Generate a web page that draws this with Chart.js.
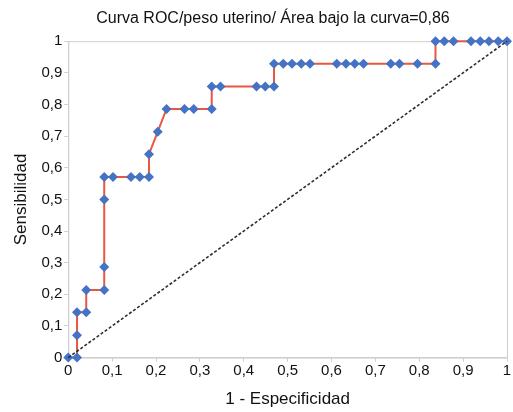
<!DOCTYPE html>
<html>
<head>
<meta charset="utf-8">
<script src="https://cdn.jsdelivr.net/npm/chart.js@4"></script>
<style>
  html, body { margin: 0; padding: 0; background: #fff; }
  #wrap { width: 513px; height: 412px; }
</style>
</head>
<body>
<div id="wrap"><canvas id="roc"></canvas></div>
<script>
// --- Data ---
const titleText = 'Curva ROC/peso uterino/ Área bajo la curva=0,86';
const xLabel = '1 - Especificidad';
const yLabel = 'Sensibilidad';

// 1 - especificidad (x) y sensibilidad (y) de cada punto de corte
const fpr = [0, 0.02, 0.02, 0.02, 0.041, 0.041, 0.082, 0.082, 0.082, 0.082,
  0.102, 0.143, 0.163, 0.184, 0.184, 0.204, 0.224, 0.265, 0.286, 0.327,
  0.327, 0.347, 0.429, 0.449, 0.469, 0.469, 0.49, 0.51, 0.531, 0.551,
  0.612, 0.633, 0.653, 0.673, 0.735, 0.755, 0.796, 0.837, 0.837, 0.857,
  0.878, 0.918, 0.939, 0.959, 0.98, 1];
const tpr = [0, 0, 0.071, 0.143, 0.143, 0.214, 0.214, 0.286, 0.5, 0.571,
  0.571, 0.571, 0.571, 0.571, 0.643, 0.714, 0.786, 0.786, 0.786, 0.786,
  0.857, 0.857, 0.857, 0.857, 0.857, 0.929, 0.929, 0.929, 0.929, 0.929,
  0.929, 0.929, 0.929, 0.929, 0.929, 0.929, 0.929, 0.929, 1, 1,
  1, 1, 1, 1, 1, 1];

// línea de referencia
const refX = [0, 1];
const refY = [0, 1];

const FONT = "'Liberation Sans', Arial, Helvetica, sans-serif";

// marco gris alrededor del área de trazado
const framePlugin = {
  id: 'frame',
  afterLayout(chart) {
    // el título va un poco a la derecha del centro del lienzo
    if (chart.titleBlock) chart.titleBlock.left += 32;
  },
  beforeDatasetsDraw(chart) {
    const { ctx, chartArea: a } = chart;
    ctx.save();
    ctx.strokeStyle = '#cfcfcf';
    ctx.lineWidth = 1;
    ctx.strokeRect(a.left + 0.5, a.top + 0.5, a.right - a.left, a.bottom - a.top);
    ctx.restore();
  }
};

const commaTick = v => String(Math.round(v * 10) / 10).replace('.', ',');

new Chart(document.getElementById('roc'), {
  type: 'scatter',
  data: {
    datasets: [
      {
        label: 'Referencia',
        data: refX.map((x, i) => ({ x, y: refY[i] })),
        showLine: true,
        borderColor: '#2e2e2e',
        borderWidth: 1.6,
        borderDash: [3, 2],
        pointRadius: 0,
        clip: false
      },
      {
        label: 'ROC',
        data: fpr.map((x, i) => ({ x, y: tpr[i] })),
        showLine: true,
        borderColor: '#e9573f',
        borderWidth: 2,
        pointStyle: 'rectRot',
        pointRadius: 5,
        pointBackgroundColor: '#4472c4',
        pointBorderColor: '#4472c4',
        pointBorderWidth: 0,
        clip: false
      }
    ]
  },
  options: {
    responsive: true,
    maintainAspectRatio: false,
    animation: false,
    layout: { padding: { top: 9, right: 6, left: 7, bottom: 0 } },
    plugins: {
      legend: { display: false },
      tooltip: { enabled: false },
      title: {
        display: true,
        text: titleText,
        color: '#111',
        font: { family: FONT, size: 16, weight: 'normal' },
        padding: { top: 0, bottom: 13 }
      }
    },
    scales: {
      x: {
        type: 'linear',
        min: 0,
        max: 1,
        ticks: { stepSize: 0.1, callback: commaTick, color: '#111', font: { family: FONT, size: 15 }, padding: 0, maxRotation: 0 },
        grid: { drawOnChartArea: false, color: '#cfcfcf', tickLength: 4 },
        border: { color: '#cfcfcf' },
        title: { display: true, text: xLabel, color: '#111', font: { family: FONT, size: 17 }, padding: { top: 10, bottom: 2 } }
      },
      y: {
        type: 'linear',
        min: 0,
        max: 1,
        ticks: { stepSize: 0.1, callback: commaTick, color: '#111', font: { family: FONT, size: 15 }, padding: 2 },
        grid: { drawOnChartArea: false, color: '#cfcfcf', tickLength: 4 },
        border: { color: '#cfcfcf' },
        title: { display: true, text: yLabel, color: '#111', font: { family: FONT, size: 17 }, padding: { bottom: 8 } }
      }
    }
  },
  plugins: [framePlugin]
});
</script>
</body>
</html>
